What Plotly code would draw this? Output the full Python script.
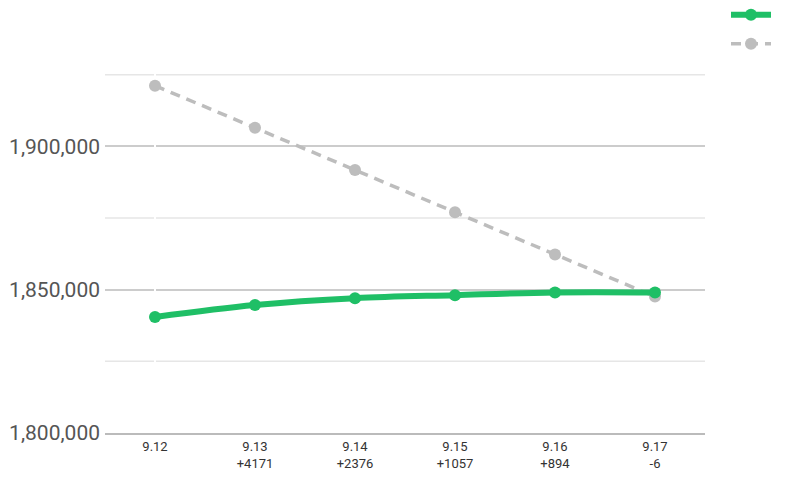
import plotly.graph_objects as go

cats = ["9.12<br> ", "9.13<br>+4171", "9.14<br>+2376", "9.15<br>+1057", "9.16<br>+894", "9.17<br>-6"]
green = [1840500, 1844671, 1847047, 1848104, 1848998, 1848992]
gray = [1921200, 1906500, 1891800, 1877050, 1862300, 1847600]
major = [1800000, 1850000, 1900000, 1950000]
minor = [1825000, 1875000, 1925000]

fig = go.Figure()
for v in minor:
    fig.add_hline(y=v, line=dict(color="#e6e6e6", width=1.5), layer="below")
fig.add_trace(go.Scatter(x=list(range(6)), y=gray, name=" ", mode="lines+markers",
                         line=dict(color="#bdbdbd", width=3.5, dash="10px,7px"),
                         marker=dict(size=12, color="#bdbdbd")))
fig.add_trace(go.Scatter(x=list(range(6)), y=green, name=" ", mode="lines+markers",
                         line=dict(color="#1fbf66", width=6, shape="spline"),
                         marker=dict(size=12, color="#1fbf66")))
fig.update_layout(
    width=800, height=497, plot_bgcolor="white", paper_bgcolor="white",
    margin=dict(l=97, r=103, t=0, b=72, autoexpand=False),
    font=dict(family="Roboto", color="#444"),
    legend=dict(x=1.035, y=1.03, xanchor="left", yanchor="top", traceorder="reversed",
                font=dict(size=20), itemwidth=40, tracegroupgap=10),
    xaxis=dict(tickmode="array", tickvals=list(range(6)), ticktext=cats, range=[-0.5, 5.5],
               showgrid=False, showline=True, linecolor="#bbb", linewidth=2,
               tickfont=dict(size=13, color="#333"), automargin=False),
    yaxis=dict(range=[1800000, 1948300], tickvals=major, tickformat=",d",
               showgrid=True, gridcolor="#cccccc", gridwidth=1.5, zeroline=False,
               tickfont=dict(size=21, color="#555"), automargin=False, ticklabelstandoff=4),
)
fig.write_html("out.html")
